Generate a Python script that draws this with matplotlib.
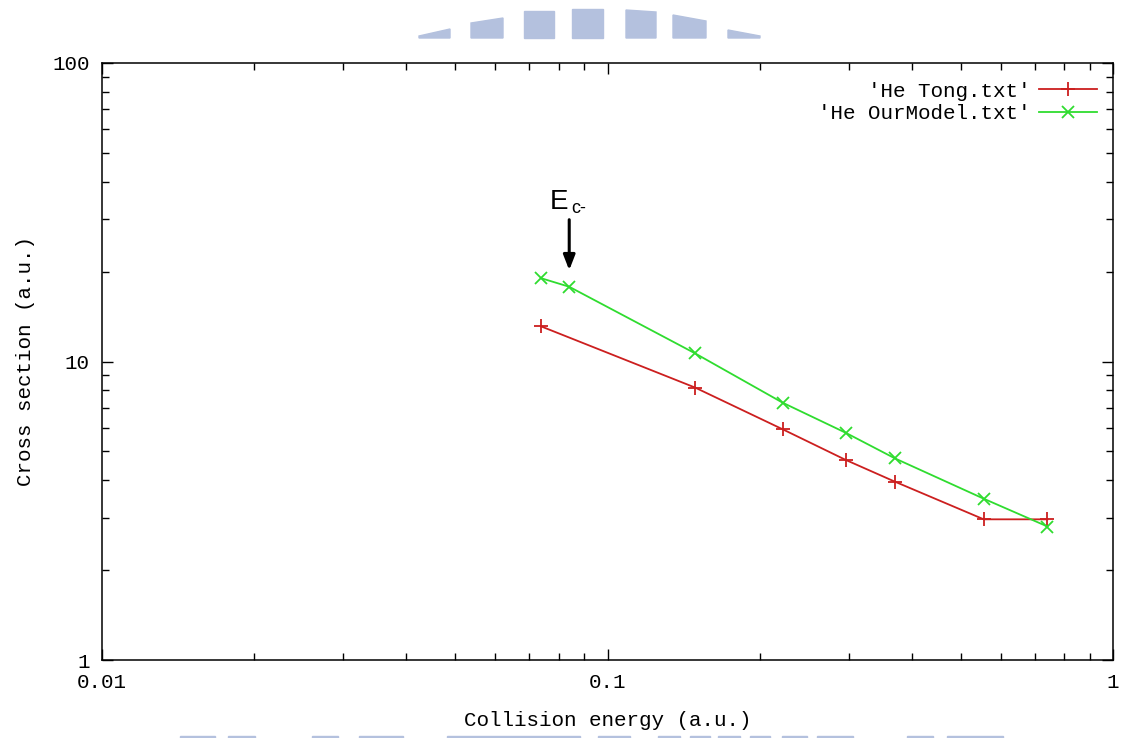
import matplotlib
matplotlib.use('Agg')
import matplotlib.pyplot as plt
from matplotlib.patches import Polygon

# cross sections vs collision energy (atomic units)
tong_e = [0.074, 0.149, 0.222, 0.296, 0.37, 0.555, 0.742]
tong_cs = [13.1, 8.18, 5.93, 4.68, 3.96, 2.96, 2.96]
ours_e = [0.074, 0.084, 0.149, 0.222, 0.296, 0.37, 0.555, 0.742]
ours_cs = [19.0, 17.8, 10.65, 7.28, 5.77, 4.74, 3.47, 2.80]

ec_e = 0.084   # threshold marked by the arrow

W, H = 1127, 738
mono = 'Liberation Mono'

fig = plt.figure(figsize=(W / 100, H / 100), dpi=100)
ax = fig.add_axes([102 / W, 1 - 660 / H, (1113 - 102) / W, (660 - 63) / H])

ax.plot(tong_e, tong_cs, color='#cc1f1f', lw=1.3, marker='+', ms=10, mew=1.3,
        label="'He Tong.txt'")
ax.plot(ours_e, ours_cs, color='#2fdc2f', lw=1.3, marker='x', ms=8, mew=1.3,
        label="'He OurModel.txt'")

ax.set_xscale('log')
ax.set_yscale('log')
ax.set_xlim(0.01, 1)
ax.set_ylim(1, 100)
ax.set_xticks([0.01, 0.1, 1])
ax.set_xticklabels(['0.01', '0.1', '1'])
ax.set_yticks([1, 10, 100])
ax.set_yticklabels(['1', '10', '100'])

ax.tick_params(which='both', direction='in', top=True, right=True, width=1)
ax.tick_params(which='major', length=8, labelsize=15, pad=9)
ax.tick_params(which='minor', length=5)
for lab in ax.get_xticklabels() + ax.get_yticklabels():
    lab.set_family(mono)
for sp in ax.spines.values():
    sp.set_linewidth(1.1)

ax.set_xlabel('Collision energy (a.u.)', family=mono, fontsize=15, labelpad=14)
ax.set_ylabel('Cross section (a.u.)', family=mono, fontsize=15, labelpad=12)

leg = ax.legend(loc='upper right', frameon=False, markerfirst=False,
                prop={'family': mono, 'size': 15}, handlelength=2.8,
                handletextpad=0.4, labelspacing=0.15,
                bbox_to_anchor=(1.003, 1.0))

# E_c- arrow
ax.annotate('', xy=(ec_e, 19.8), xytext=(ec_e, 30.5),
            arrowprops=dict(arrowstyle='-|>,head_width=0.35,head_length=0.9',
                            color='black', lw=2.2))
ax.text(ec_e * 0.995, 31.0, 'E', family='Liberation Sans', fontsize=20,
        ha='right', va='bottom')
ax.text(ec_e * 1.01, 30.6, 'c-', family='Liberation Sans', fontsize=13,
        ha='left', va='bottom')

# watermark shapes along the top and bottom edges
wm = '#b4c1de'
bars = [(419, 450, 36, 29), (471, 503, 23, 18), (524, 554, 11, 11),
        (572, 603, 9, 9), (626, 656, 10, 12), (673, 706, 15, 21),
        (728, 760, 30, 36)]
for x0, x1, t0, t1 in bars:
    pts = [(x0, 38), (x0, t0), (x1, t1), (x1, 38)]
    fig.add_artist(Polygon([(x / W, 1 - y / H) for x, y in pts],
                           closed=True, color=wm, transform=fig.transFigure))
strips = [(180, 215), (228, 255), (312, 338), (359, 403), (447, 580),
          (598, 630), (658, 680), (690, 710), (718, 740), (750, 770),
          (782, 807), (817, 853), (907, 933), (947, 1003)]
for x0, x1 in strips:
    pts = [(x0, 738), (x0, 736), (x1, 736), (x1, 738)]
    fig.add_artist(Polygon([(x / W, 1 - y / H) for x, y in pts],
                           closed=True, color=wm, transform=fig.transFigure))

fig.savefig('out.png', dpi=100)
